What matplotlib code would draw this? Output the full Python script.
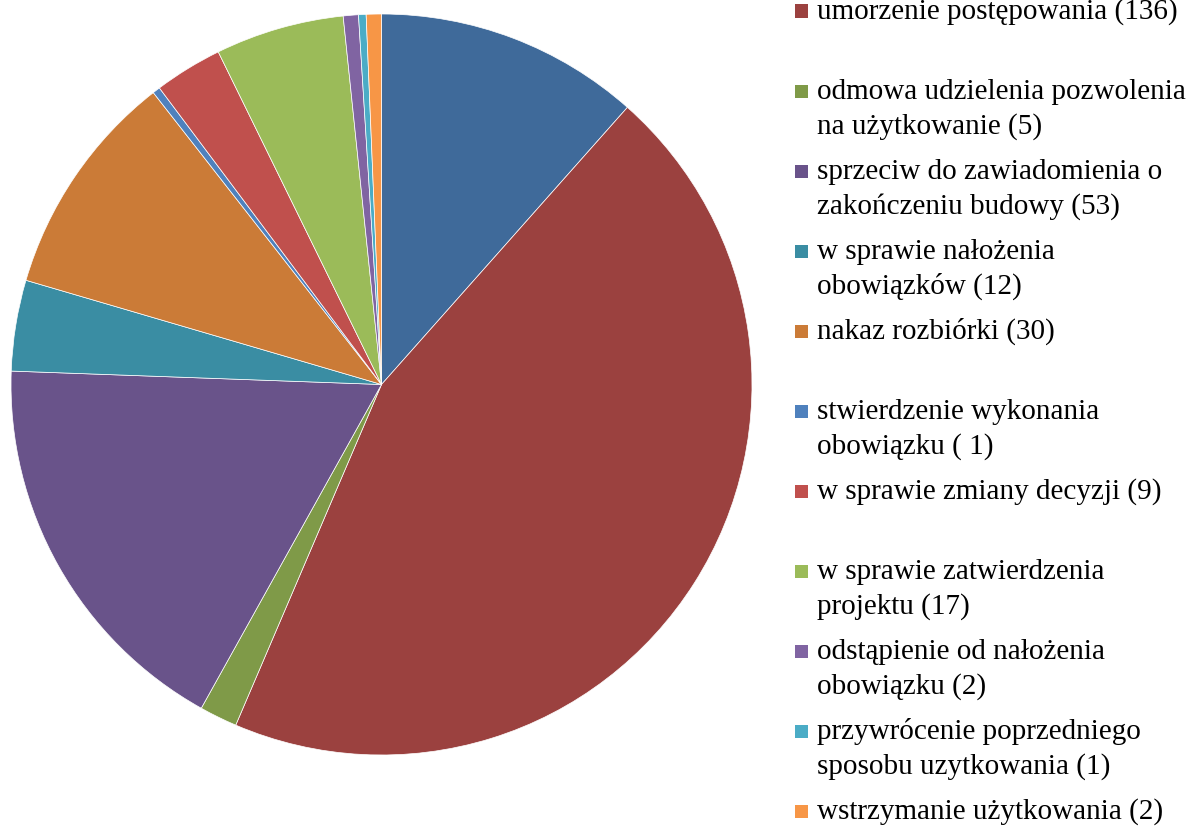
import matplotlib
matplotlib.use("Agg")
import matplotlib.pyplot as plt
from matplotlib.patches import Rectangle

W, H = 1192, 827

categories = [
    "pozwolenie na budowę (35)",
    "umorzenie postępowania (136)",
    "odmowa udzielenia pozwolenia\nna użytkowanie (5)",
    "sprzeciw do zawiadomienia o\nzakończeniu budowy (53)",
    "w sprawie nałożenia\nobowiązków (12)",
    "nakaz rozbiórki (30)",
    "stwierdzenie wykonania\nobowiązku ( 1)",
    "w sprawie zmiany decyzji (9)",
    "w sprawie zatwierdzenia\nprojektu (17)",
    "odstąpienie od nałożenia\nobowiązku (2)",
    "przywrócenie poprzedniego\nsposobu uzytkowania (1)",
    "wstrzymanie użytkowania (2)",
]
values = [35, 136, 5, 53, 12, 30, 1, 9, 17, 2, 1, 2]
colors = ["#3F6A9A", "#9B413F", "#7F9A48", "#69538A", "#3A8DA3", "#CB7B37",
          "#4F81BD", "#C0504D", "#9BBB59", "#8064A2", "#4BACC6", "#F79646"]

fig = plt.figure(figsize=(W / 100, H / 100), dpi=100)

cx, cy, r = 381.5, 384.5, 370.5
ax = fig.add_axes([(cx - r) / W, 1 - (cy + r) / H, 2 * r / W, 2 * r / H])
ax.pie(values, colors=colors, startangle=90, counterclock=False, radius=1,
       wedgeprops=dict(edgecolor="white", linewidth=0.5))
ax.set_xlim(-1, 1)
ax.set_ylim(-1, 1)
ax.set_aspect("auto")
ax.axis("off")

# manual legend (Excel-style equal slots; first entry falls above the canvas)
slot0 = 11 - 80
slot = 80
sq = 13
line_h = 35
for i, (lab, col) in enumerate(zip(categories, colors)):
    yc = slot0 + i * slot
    fig.patches.append(Rectangle((795 / W, 1 - (yc + sq / 2) / H), sq / W, sq / H,
                                 transform=fig.transFigure, facecolor=col,
                                 edgecolor="none"))
    for j, line in enumerate(lab.split("\n")):
        yb = yc + 8 + j * line_h
        fig.text(817 / W, 1 - yb / H, line, ha="left", va="baseline",
                 fontsize=21, family="Liberation Serif", color="black")

fig.savefig("out.png", dpi=100)
